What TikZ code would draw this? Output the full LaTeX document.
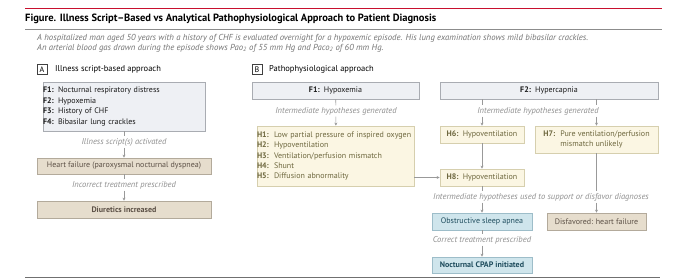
\documentclass[tikz,border=0pt]{standalone}
\usepackage{fontspec}
\setmainfont{PT Sans}
\usepackage{xcolor}
\usetikzlibrary{arrows.meta}
\definecolor{jred}{HTML}{C8102E}
\definecolor{rulegray}{HTML}{8C8C8C}
\definecolor{lblgray}{HTML}{8E8E8E}
\definecolor{fFill}{HTML}{EEF0F4}
\definecolor{fLine}{HTML}{A9ACB2}
\definecolor{tanFill}{HTML}{E6DDCD}
\definecolor{tanLine}{HTML}{B3AA9B}
\definecolor{tanText}{HTML}{5C5046}
\definecolor{hFill}{HTML}{FBF6E3}
\definecolor{hLine}{HTML}{D6CFAE}
\definecolor{hText}{HTML}{6E683F}
\definecolor{dxFill}{HTML}{CFE5EC}
\definecolor{dxLine}{HTML}{9DBDC9}
\definecolor{dxText}{HTML}{1F4D5E}
\newcommand{\tg}[1]{\makebox[15pt][l]{\textbf{#1}}}
\newcommand{\hg}[1]{\makebox[17pt][l]{\textbf{#1}}}

\begin{document}
\begin{tikzpicture}[x=1pt, y=-1pt,
  every node/.style={font=\fontsize{8}{10.4}\selectfont, inner sep=0pt},
  box/.style={draw, line width=0.7pt, rectangle, minimum height=17pt, align=center},
  fbox/.style={box, fill=fFill, draw=fLine, text=black!90},
  tbox/.style={box, fill=tanFill, draw=tanLine, text=tanText},
  hbox/.style={box, fill=hFill, draw=hLine, text=hText},
  dbox/.style={box, fill=dxFill, draw=dxLine, text=dxText},
  lbl/.style={font=\fontsize{8.5}{10}\selectfont\itshape, text=lblgray, inner sep=1.5pt},
  tag/.style={draw=black!75, line width=0.6pt, minimum size=10pt, font=\fontsize{8}{8}\selectfont},
  arr/.style={draw=black!40, line width=0.6pt, -{Stealth[length=3pt, width=3pt]}},
  ln/.style={draw=black!40, line width=0.6pt}]
\useasboundingbox (0,0) rectangle (680,280);

% heading
\draw[jred, line width=1.2pt] (25,8.5) -- (662,8.5);
\node[anchor=west, font=\fontsize{10.5}{12}\selectfont\bfseries] (title) at (25,18.5)
  {Figure. Illness Script–Based vs Analytical Pathophysiological Approach to Patient Diagnosis};
\draw[rulegray, line width=0.9pt] (25,29) -- (662,29);
\node[anchor=north west, align=left, text=black!55, font=\fontsize{8.7}{10.2}\selectfont\itshape] (case) at (37,34)
  {A hospitalized man aged 50 years with a history of CHF is evaluated overnight for a hypoxemic episode. His lung examination shows mild bibasilar crackles.\\
   An arterial blood gas drawn during the episode shows Pao\textsubscript{2} of 55 mm Hg and Paco\textsubscript{2} of 60 mm Hg.};

% panel A
\node[tag] (tagA) at (42,69.5) {A};
\node[anchor=west, font=\fontsize{8.5}{10}\selectfont] (headA) at (55,69.5) {Illness script-based approach};
\node[fbox, align=left, text width=162pt, minimum height=49pt] (FA) at (124,106.5)
  {\tg{F1:}Nocturnal respiratory distress\\ \tg{F2:}Hypoxemia\\ \tg{F3:}History of CHF\\ \tg{F4:}Bibasilar lung crackles};
\node[lbl] (actA) at (124,142) {Illness script(s) activated};
\node[tbox, minimum width=174pt, minimum height=16pt] (HF) at (124,166) {Heart failure (paroxysmal nocturnal dyspnea)};
\node[lbl] (wrongA) at (124,185) {Incorrect treatment prescribed};
\node[tbox, minimum width=174pt, font=\fontsize{8}{10}\selectfont\bfseries] (DI) at (124,209.5) {Diuretics increased};
\draw[ln] (FA) -- (actA);
\draw[arr] (actA) -- (HF);
\draw[ln] (HF) -- (wrongA);
\draw[arr] (wrongA) -- (DI);

% panel B
\node[tag] (tagB) at (257,69.5) {B};
\node[anchor=west, font=\fontsize{8.5}{10}\selectfont] (headB) at (269,69.5) {Pathophysiological approach};
\node[fbox, minimum width=167pt] (F1) at (335.5,90.5) {\textbf{F1:}\, Hypoxemia};
\node[lbl] (genL) at (336,111) {Intermediate hypotheses generated};
\node[hbox, align=left, text width=157pt, minimum height=60pt] (H) at (335.5,156)
  {\hg{H1:}Low partial pressure of inspired oxygen\\ \hg{H2:}Hypoventilation\\ \hg{H3:}Ventilation/perfusion mismatch\\ \hg{H4:}Shunt\\ \hg{H5:}Diffusion abnormality};
\node[fbox, minimum width=218pt] (F2) at (549,90.5) {\textbf{F2:}\, Hypercapnia};
\node[lbl] (genR) at (538,111) {Intermediate hypotheses generated};
\node[hbox, minimum width=84pt] (H6) at (482,134.5) {\textbf{H6:}\, Hypoventilation};
\node[hbox, align=left, minimum width=123pt, minimum height=27pt] (H7) at (596.5,139.5)
  {\hg{H7:}Pure ventilation/perfusion\\ \hg{}mismatch unlikely};
\node[hbox, minimum width=84pt] (H8) at (482,177.5) {\textbf{H8:}\, Hypoventilation};
\node[lbl] (useL) at (541,197) {Intermediate hypotheses used to support or disfavor diagnoses};
\node[dbox, minimum width=100pt] (OSA) at (482,221.5) {Obstructive sleep apnea};
\node[tbox, minimum width=99pt] (DF) at (596.5,221.5) {Disfavored: heart failure};
\node[lbl] (rightB) at (482,240) {Correct treatment prescribed};
\node[dbox, minimum width=100pt, minimum height=16pt, font=\fontsize{8}{10}\selectfont\bfseries] (CP) at (482,265) {Nocturnal CPAP initiated};
\draw[ln] (F1) -- (genL);
\draw[arr] (genL) -- (H);
\draw[ln] (F2.south -| H6) -- (genR.north -| H6);
\draw[arr] (genR.south -| H6) -- (H6);
\draw[ln] (F2.south -| H7) -- (genR.north -| H7);
\draw[arr] (genR.south -| H7) -- (H7);
\draw[arr] (H6) -- (H8);
\draw[arr] (H.east |- H8) -- (H8);
\draw[ln] (H8) -- (useL.north -| H8);
\draw[arr] (useL.south -| H8) -- (OSA);
\draw[ln] (H7) -- (useL.north -| H7);
\draw[arr] (useL.south -| H7) -- (DF);
\draw[ln] (OSA) -- (rightB);
\draw[arr] (rightB) -- (CP);

\draw[rulegray!80!black, line width=1.2pt] (25,277.5) -- (660,277.5);
\end{tikzpicture}
\end{document}
